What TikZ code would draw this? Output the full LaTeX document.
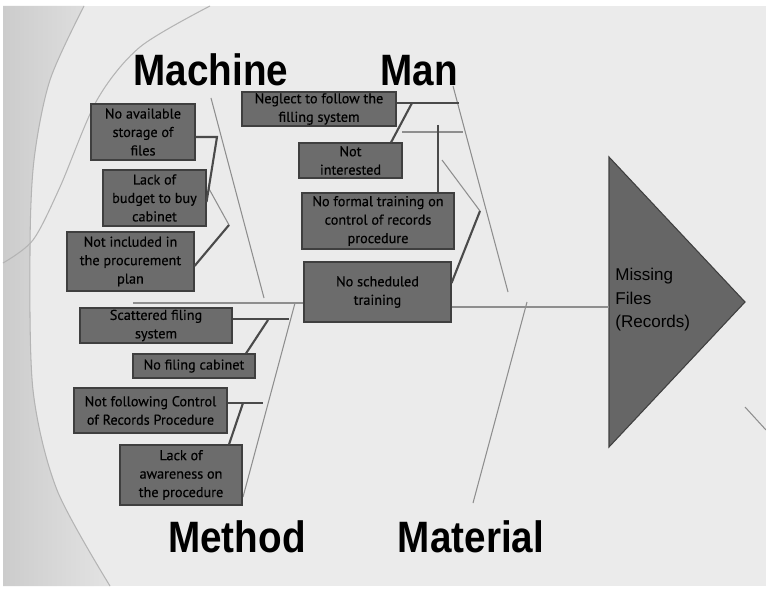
\documentclass[tikz,border=0pt]{standalone}
\usepackage{fontspec}
\usepackage{graphicx}
\setmainfont{Liberation Sans}
\newfontfamily\boxfont[FakeBold=0.3]{PT Sans}
\newfontfamily\efffont{Liberation Sans}
\newfontfamily\titlefont{Liberation Sans}
\definecolor{boxfill}{HTML}{6C6C6C}
\definecolor{boxline}{HTML}{3F3F3F}
\definecolor{linkgray}{HTML}{4A4A4A}
\definecolor{bonegray}{HTML}{8E8E8E}
\definecolor{trifill}{HTML}{666666}
\definecolor{bgcol}{HTML}{EBEBEB}
\definecolor{curvecol}{HTML}{B4B4B4}
\tikzset{
  causeshape/.style={draw=boxline, fill=boxfill, line width=0.6pt, inner sep=0pt},
  causetext/.style={inner sep=0pt, align=center, font=\boxfont\fontsize{8.1}{10.5}\selectfont},
  bone/.style={draw=bonegray, line width=0.6pt},
  link/.style={draw=linkgray, line width=1.2pt},
  cattitle/.style={font=\titlefont\bfseries\fontsize{25}{30}\selectfont, anchor=base, inner sep=0pt},
  deco/.style={draw=curvecol, line width=0.6pt},
}
\newcommand\causebox[6]{%
  \node[causeshape, minimum width={(#4-#2)*0.02cm}, minimum height={(#5-#3)*0.02cm}] (#1) at ({(#2+#4)/2},{(#3+#5)/2}) {};
  \node[causetext] (#1t) at (#1) {#6};}
\begin{document}
\begin{tikzpicture}[x=0.02cm, y=-0.02cm]
\useasboundingbox (0,0) rectangle (766,591);
% background
\fill[white] (0,0) rectangle (766,591);
\fill[bgcol] (3,6) rectangle (766,586);
\shade[left color=black!20, right color=black!11]
  (3,6) -- plot[smooth] coordinates {(84,6) (50,80) (34,160) (30,250) (33,390) (57,490) (110,586)} -- (3,586) -- cycle;
\draw[deco] plot[smooth] coordinates {(84,6) (50,80) (34,160) (30,250) (33,390) (57,490) (110,586)};
\draw[deco] plot[smooth] coordinates {(210,6) (140,47) (97,100) (60,187) (33,240) (3,263)};
\draw[bone] (745,407) -- (766,430);

% effect
\coordinate (tA) at (609,157);
\coordinate (tB) at (609,447);
\coordinate (tC) at (745,302);
\filldraw[fill=trifill, draw=boxline, line width=0.6pt] (tA) -- (tC) -- (tB) -- cycle;
\node[anchor=north west, align=left, inner sep=0pt,
  font=\efffont\fontsize{9.7}{13.3}\selectfont] (eff) at (615,268) {Missing\\Files\\(Records)};

% main bones
\draw[bone] (211,98) -- (264,298);
\draw[bone] (453,86) -- (508,292);
\draw[bone] (295,303) -- (243,497);
\draw[bone] (527,302) -- (473,503);
\draw[bone] (208,187) -- (229,225);
\draw[bone] (402,132) -- (463,132);
\draw[bone] (442,160) -- (480,211);

% cause boxes
\causebox{b1}{91}{104}{195}{160}{No available\\storage of\\files}
\causebox{b2}{103}{170}{206}{226}{Lack of\\budget to buy\\cabinet}
\causebox{b3}{67}{232}{194}{291}{Not included in\\the procurement\\plan}
\causebox{b4}{242}{92}{396}{126}{Neglect to follow the\\filling system}
\causebox{b5}{299}{143}{402}{178}{Not\\interested}
\causebox{b6}{302}{193}{454}{249}{No formal training on\\control of records\\procedure}
\causebox{b7}{304}{262}{451}{322}{No scheduled\\training}
\causebox{b8}{80}{308}{232}{343}{Scattered filing\\system}
\causebox{b9}{133}{354}{255}{378}{No filing cabinet}
\causebox{b10}{74}{388}{227}{433}{Not following Control\\of Records Procedure}
\causebox{b11}{120}{445}{242}{505}{Lack of\\awareness on\\the procedure}

% spine
\coordinate (s0) at (133,303);
\coordinate (s1) at (0,307);
\draw[bone] (s0) -- (b7.west |- s0);
\draw[bone] (b7.east |- s1) -- (tA |- s1);

% helper coordinates
\coordinate (m1) at (217,137);
\coordinate (mb) at (0,202);
\coordinate (m2) at (229,225);
\coordinate (mc) at (0,266);
\coordinate (n1) at (459,103);
\coordinate (n2) at (412,103);
\coordinate (nb) at (391,0);
\coordinate (n3) at (438,125);
\coordinate (n4) at (480,211);
\coordinate (nd) at (0,283);
\coordinate (t1) at (289,319);
\coordinate (t2) at (268,320);
\coordinate (tb) at (246,0);
\coordinate (t3) at (263,403);
\coordinate (t4) at (243,403);
\coordinate (td) at (229,0);

% links
\draw[link] (b1.east |- m1) -- (m1) -- (b2.east |- mb);
\draw[link] (m2) -- (b3.east |- mc);
\draw[link] (b4.east |- n1) -- (n1);
\draw[link] (n2) -- (b5.north -| nb);
\draw[link] (n3) -- (b6.north -| n3);
\draw[link] (n4) -- (b7.east |- nd);
\draw[link] (b8.east |- t1) -- (t1);
\draw[link] (t2) -- (b9.north -| tb);
\draw[link] (b10.east |- t3) -- (t3);
\draw[link] (t4) -- (b11.north -| td);

% category titles
\node[cattitle] (machine) at (211,86) {\scalebox{0.88}[1]{Machine}};
\node[cattitle] (man) at (419,86) {\scalebox{0.88}[1]{Man}};
\node[cattitle] (method) at (237,552) {\scalebox{0.88}[1]{Method}};
\node[cattitle] (material) at (471,552) {\scalebox{0.88}[1]{Material}};
\end{tikzpicture}
\end{document}
